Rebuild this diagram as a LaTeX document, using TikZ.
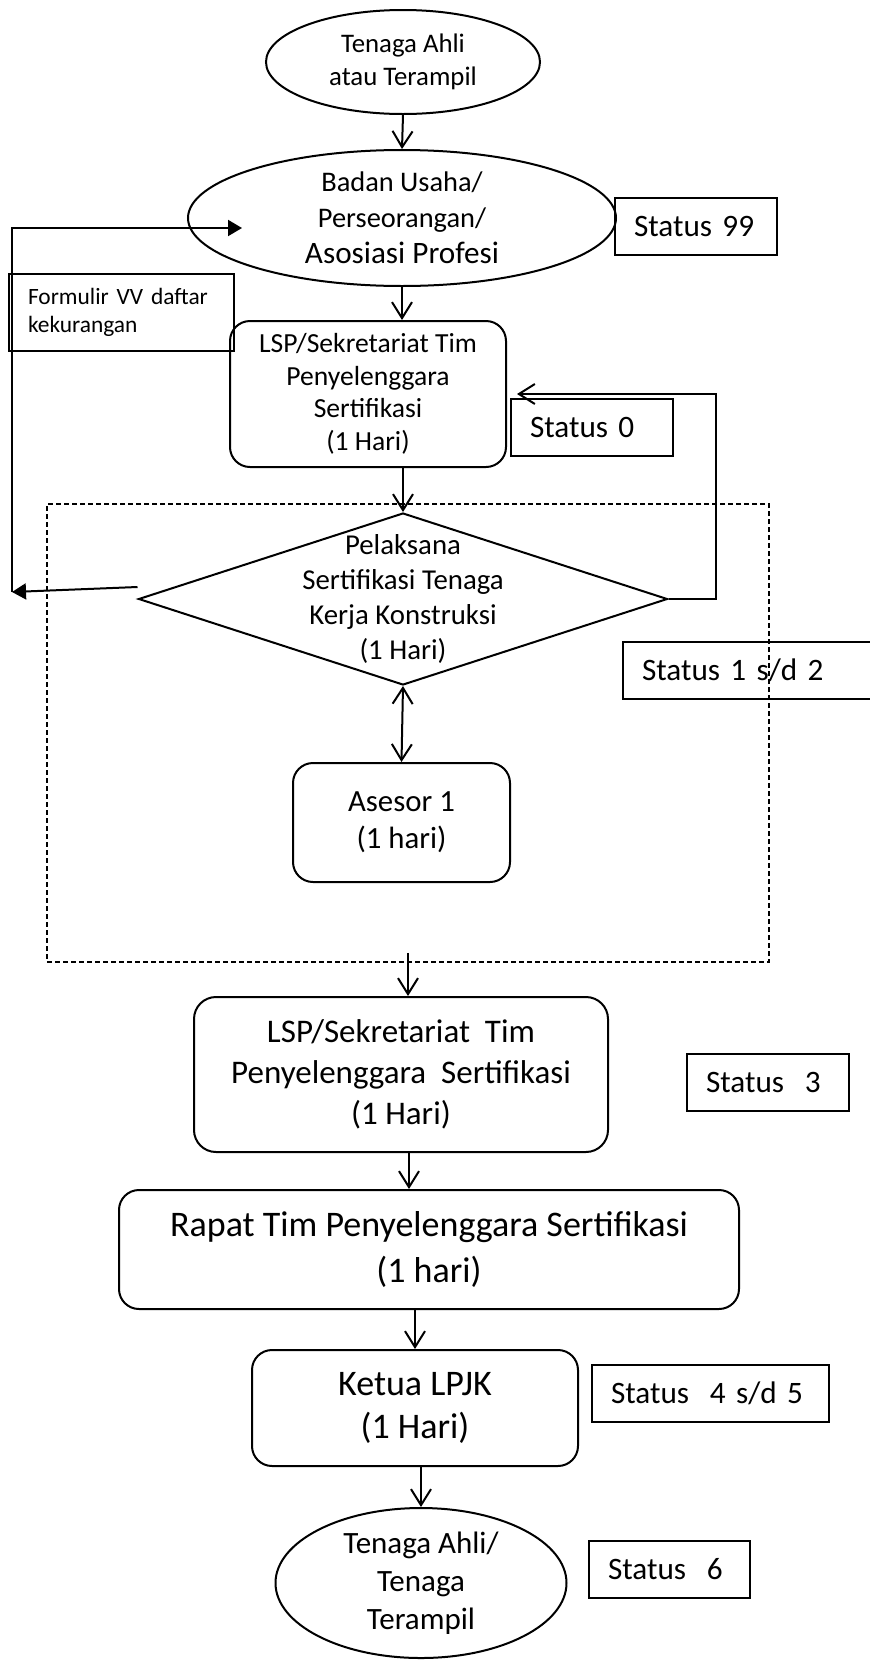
\documentclass[tikz,border=0pt]{standalone}
\usepackage{fontspec}
\setmainfont{Carlito}
\usetikzlibrary{shapes.geometric,arrows.meta}

\begin{document}
\begin{tikzpicture}[x=0.5pt,y=-0.5pt,line width=1pt,
        >={Straight Barb[length=8pt,width=10pt]}]
        \tikzstyle{every node}+=[inner sep=0pt]
        \tikzstyle{oval}=[draw, ellipse, align=center]
        \tikzstyle{proc}=[draw, rounded corners=10pt, align=center]
        \tikzstyle{statbox}=[draw, anchor=west, inner xsep=9.5pt, align=left, minimum height=28.5pt, font=\fontsize{15.6}{19}\selectfont]
        \tikzstyle{tri}=[-{Triangle[length=7pt,width=8pt]}]
        \useasboundingbox (0,0) rectangle (869,1660);
        \node [oval, minimum width=137pt, minimum height=52pt, font=\fontsize{13.4}{16.5}\selectfont] (ahli) at (403,62) {Tenaga Ahli\\atau Terampil};
        \node [oval, minimum width=214pt, minimum height=68pt, font=\fontsize{14.2}{18}\selectfont] (usaha) at (402,218) {Badan Usaha/\\Perseorangan/\\\fontsize{15.6}{18}\selectfont Asosiasi Profesi};
        \node [statbox, text width=62pt] (s99) at (614,226) {Status 99};
        \node [draw, anchor=west, inner xsep=9.5pt, text width=93.5pt, minimum height=38.5pt, align=left, font=\fontsize{11.7}{14}\selectfont] (form) at (8,312) {Formulir VV daftar\\kekurangan};
        \node [proc, minimum width=138pt, minimum height=73pt, font=\fontsize{13.8}{16.3}\selectfont] (lsp1) at (368,394) {LSP/Sekretariat Tim\\Penyelenggara\\Sertifikasi\\(1 Hari)};
        \node [statbox, text width=62pt] (s0) at (510,427) {Status 0};
        \node [draw, dashed, line width=0.8pt, dash pattern=on 2.5pt off 1.5pt, minimum width=361pt, minimum height=229pt] (grp) at (408,733) {};
        \node [draw, diamond, minimum width=264.5pt, minimum height=86pt,
               label={[align=center, font=\fontsize{14.4}{17.5}\selectfont]center:Pelaksana\\Sertifikasi Tenaga\\Kerja Konstruksi\\(1 Hari)}] (dia) at (403,599) {};
        \node [proc, minimum width=108.5pt, minimum height=59.5pt, font=\fontsize{15.4}{18.5}\selectfont] (asesor) at (401.5,822.5) {Asesor 1\\(1 hari)};
        \node [statbox, text width=120pt] (s12) at (622,670.5) {Status 1 s/d 2};
        \node [proc, rounded corners=11pt, minimum width=207pt, minimum height=77.5pt, font=\fontsize{16.5}{20.5}\selectfont] (lsp2) at (401,1074.5) {LSP/Sekretariat~~Tim\\Penyelenggara~~Sertifikasi\\(1 Hari)};
        \node [statbox, text width=62pt] (s3) at (686,1082.5) {Status~~3};
        \node [proc, minimum width=310pt, minimum height=59.5pt, font=\fontsize{18}{23}\selectfont] (rapat) at (429,1249.5) {Rapat Tim Penyelenggara~Sertifikasi\\(1 hari)};
        \node [proc, minimum width=163pt, minimum height=58pt, font=\fontsize{18}{21.5}\selectfont] (ketua) at (415,1408) {Ketua LPJK\\(1 Hari)};
        \node [statbox, text width=99.5pt] (s45) at (591,1393.5) {Status~~4 s/d 5};
        \node [oval, minimum width=145.5pt, minimum height=75pt, font=\fontsize{15.5}{19}\selectfont] (bawah) at (421,1583) {Tenaga Ahli/\\Tenaga\\Terampil};
        \node [statbox, text width=61.5pt] (s6) at (588,1569) {Status~~6};
        \coordinate (lbot) at (12,592);
        \coordinate (uin) at (242,228);
        \draw [->] (ahli.south) -- (usaha.north);
        \draw [->] (usaha.south) -- (usaha.south |- lsp1.north);
        \draw [->] (dia.north |- lsp1.south) -- (dia.north);
        \draw [->] (dia.east) -- ++(47,0) |- ([xshift=5pt]lsp1.east);
        \draw [tri] ([yshift=6pt]dia.west) -- (lbot);
        \draw [tri] (lbot) |- (uin);
        \draw [<->] (dia.south) -- (asesor.north);
        \draw [->] ([yshift=5pt]grp.south) -- (grp.south |- lsp2.north);
        \draw [->] ([xshift=4pt]lsp2.south) -- ([xshift=4pt]lsp2.south |- rapat.north);
        \draw [->] (ketua.north |- rapat.south) -- (ketua.north);
        \draw [->] (bawah.north |- ketua.south) -- (bawah.north);
\end{tikzpicture}
\end{document}
